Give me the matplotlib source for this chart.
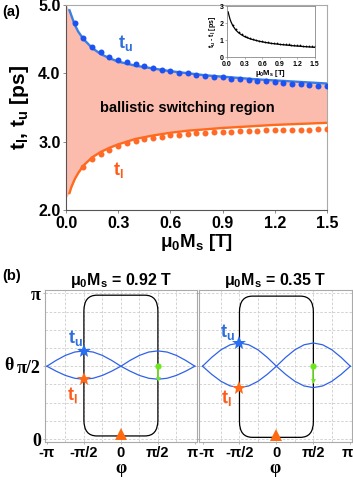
import numpy as np
import matplotlib
matplotlib.use("Agg")
import matplotlib.pyplot as plt
from matplotlib.patches import FancyBboxPatch
from matplotlib.transforms import ScaledTranslation

plt.rcParams["font.family"] = ["Liberation Sans", "DejaVu Sans"]
plt.rcParams["font.weight"] = "bold"
plt.rcParams["axes.labelweight"] = "bold"
plt.rcParams["axes.titleweight"] = "bold"
plt.rcParams["mathtext.fontset"] = "custom"
plt.rcParams["mathtext.rm"] = "Liberation Sans:bold"
plt.rcParams["mathtext.it"] = "Liberation Sans:bold"
plt.rcParams["mathtext.bf"] = "Liberation Sans:bold"

# ---- panel (a) data ----
ms_dots = [0.05, 0.10, 0.15, 0.20, 0.25, 0.30, 0.35, 0.40, 0.45, 0.50,
           0.55, 0.60, 0.65, 0.70, 0.75, 0.80, 0.85, 0.90, 0.95, 1.00,
           1.05, 1.10, 1.15, 1.20, 1.25, 1.30, 1.35, 1.40, 1.45, 1.50]
tu_dots = [4.73, 4.51, 4.39, 4.31, 4.24, 4.19, 4.17, 4.14, 4.11, 4.08,
           4.05, 4.03, 4.01, 4.00, 3.98, 3.965, 3.95, 3.94, 3.92, 3.91,
           3.90, 3.89, 3.88, 3.87, 3.86, 3.85, 3.84, 3.83, 3.82, 3.81]
tl_dots = [None, 2.63, 2.74, 2.82, 2.88, 2.94, 2.98, 3.01, 3.035, 3.06,
           3.07, 3.09, 3.10, 3.11, 3.12, 3.125, 3.135, 3.14, 3.145, 3.15,
           3.155, 3.16, 3.165, 3.165, 3.17, 3.17, 3.175, 3.175, 3.18, 3.18]

ms_line = [0.0, 0.02, 0.03, 0.05, 0.07, 0.10, 0.15, 0.20, 0.25, 0.30, 0.40,
           0.50, 0.60, 0.70, 0.80, 0.90, 1.00, 1.10, 1.20, 1.30, 1.40, 1.50]
tu_line = [5.00, 4.92, 4.85, 4.71, 4.61, 4.50, 4.37, 4.28, 4.22, 4.17, 4.11,
           4.07, 4.03, 4.00, 3.97, 3.95, 3.93, 3.91, 3.895, 3.88, 3.865, 3.85]
tl_line = [2.18, 2.25, 2.33, 2.45, 2.54, 2.65, 2.77, 2.85, 2.91, 2.96, 3.04,
           3.09, 3.13, 3.16, 3.18, 3.20, 3.215, 3.23, 3.245, 3.255, 3.265, 3.275]

# ---- panel (b) data ----
PI = np.pi
phi_pts = [k * PI / 8 for k in range(-8, 9)]
phi_labels = ["-π", "-π/2", "0", "π/2", "π"]
theta_labels = ["0", "π/2", "π"]
panels = [
    {"title": "0.92",
     "curve": [1.571, 1.697, 1.804, 1.876, 1.901, 1.876, 1.804, 1.697, 1.571,
               1.464, 1.373, 1.312, 1.291, 1.312, 1.373, 1.464, 1.571],
     "loop": (0.07, 3.10), "tri": 0.11, "green_end": 1.29,
     "tu_pos": (-1.94, 2.18), "tl_pos": (-2.08, 0.95),
     "xlim": (-PI - 0.08, PI + 0.09)},
    {"title": "0.35",
     "curve": [1.571, 1.762, 1.925, 2.033, 2.071, 2.033, 1.925, 1.762, 1.571,
               1.395, 1.246, 1.146, 1.111, 1.146, 1.246, 1.395, 1.571],
     "loop": (0.04, 3.08), "tri": 0.09, "green_end": 1.26,
     "tu_pos": (-2.07, 2.31), "tl_pos": (-2.14, 0.88),
     "xlim": (-PI - 0.15, PI + 0.07)},
]

blue_line = "#3a7fe2"
blue_dot = "#1d52f2"
orange_line = "#ff6a1c"
orange_dot = "#ff6a28"
fill_col = "#fbbcae"
SERIF = ["Liberation Serif", "DejaVu Serif"]


def bold_ticks(a):
    for lab in a.get_xticklabels() + a.get_yticklabels():
        lab.set_fontweight("bold")


fig = plt.figure(figsize=(3.53, 4.84), dpi=100)

# ---- (a) ----
ax = fig.add_axes([0.187, 0.566, 0.739, 0.424])
ax.fill_between(ms_line, tl_line, tu_line, color=fill_col, lw=0, zorder=1)
ax.plot(ms_line[1:], tu_line[1:], color=blue_line, lw=1.7, zorder=2)
ax.plot(ms_line[1:], tl_line[1:], color=orange_line, lw=1.7, zorder=2)
ax.plot(ms_dots, tu_dots, "o", color=blue_dot, ms=4.3, mew=0, zorder=3)
tl_x = [x for x, v in zip(ms_dots, tl_dots) if v is not None]
tl_v = [v for v in tl_dots if v is not None]
ax.plot(tl_x, tl_v, "o", color=orange_dot, ms=4.3, mew=0, zorder=3)
ax.set_xlim(0, 1.5)
ax.set_ylim(2, 5)
ax.set_xticks([0.0, 0.3, 0.6, 0.9, 1.2, 1.5])
ax.set_xticklabels(["0.0", "0.3", "0.6", "0.9", "1.2", "1.5"])
ax.set_yticks([2, 3, 4, 5])
ax.set_yticklabels(["2.0", "3.0", "4.0", "5.0"])
ax.tick_params(labelsize=11.5, length=2, width=0.6, color="#777777", pad=2)
bold_ticks(ax)
for s in ["top", "right"]:
    ax.spines[s].set_color("#aaaaaa")
for s in ["left", "bottom"]:
    ax.spines[s].set_color("#555555")
for s in ax.spines.values():
    s.set_linewidth(0.8)
ax.set_xlabel(r"μ$_0$M$_s$ [T]", fontsize=13.5, labelpad=1, fontweight="bold")
ax.set_ylabel(r"t$_l$, t$_u$ [ps]", fontsize=15, labelpad=5, fontweight="bold")
ax.text(0.34, 4.44, r"t$_u$", color="#2f6fdc", fontsize=13, ha="center",
        va="center", fontweight="bold")
ax.text(0.30, 2.59, r"t$_l$", color="#ff5a1a", fontsize=13, ha="center",
        va="center", fontweight="bold")
ax.text(0.695, 3.49, "ballistic switching region", fontsize=10.5,
        ha="center", va="center", fontweight="bold")
fig.text(0.005, 0.975, "(a)", fontsize=10.5, va="center", fontweight="bold")

# inset
ins = fig.add_axes([0.643, 0.882, 0.249, 0.105])
diff_line = [u - l for u, l in zip(tu_line[1:], tl_line[1:])]
diff_dots = [u - l for u, l, in zip(tu_dots, tl_dots) if l is not None]
ins.plot(ms_line[1:], diff_line, color="black", lw=0.9)
ins.plot(tl_x, diff_dots, "o", color="black", ms=1.3, mew=0)
ins.set_xlim(0, 1.5)
ins.set_ylim(0, 3)
ins.set_xticks([0.0, 0.3, 0.6, 0.9, 1.2, 1.5])
ins.set_xticklabels(["0.0", "0.3", "0.6", "0.9", "1.2", "1.5"])
ins.set_yticks([0, 1, 2, 3])
ins.tick_params(labelsize=5, length=1.5, width=0.4, pad=1, color="#777777")
bold_ticks(ins)
for s in ins.spines.values():
    s.set_color("#888888")
    s.set_linewidth(0.6)
ins.set_xlabel(r"μ$_0$M$_s$ [T]", fontsize=5.5, labelpad=0.5, fontweight="bold")
ins.set_ylabel(r"t$_u$ - t$_l$ [ps]", fontsize=5, labelpad=1, fontweight="bold")

# ---- (b) ----
boxes = [[0.1275, 0.0868, 0.4306, 0.314], [0.5637, 0.0868, 0.4334, 0.314]]
for i, (p, b) in enumerate(zip(panels, boxes)):
    bx = fig.add_axes(b)
    bx.set_xlim(*p["xlim"])
    bx.set_ylim(-0.06, PI + 0.07)
    for k in range(-3, 4):
        bx.axvline(k * PI / 4, color="#cccccc", lw=0.6, ls=(0, (3, 2)), zorder=0)
    for k in range(0, 9):
        bx.axhline(k * PI / 8, color="#cccccc", lw=0.6, ls=(0, (3, 2)), zorder=0)
    y0, y1 = p["loop"]
    loop = FancyBboxPatch((-PI / 2, y0), PI, y1 - y0,
                          boxstyle="round,pad=0,rounding_size=0.55",
                          mutation_aspect=0.62, fc="none", ec="black",
                          lw=0.9, zorder=2)
    bx.add_patch(loop)
    bx.plot(phi_pts, p["curve"], color="#2f62e8", lw=0.9, zorder=3)
    bx.plot(phi_pts, p["curve"][::-1], color="#2f62e8", lw=0.9, zorder=3)
    top = max(p["curve"])
    bot = min(p["curve"])
    bx.plot([-PI / 2], [top], "*", color="#2a6ff0", ms=10, mew=0, zorder=5)
    bx.plot([-PI / 2], [bot], "*", color="#ff6a1a", ms=10, mew=0, zorder=5)
    bx.plot([0], [p["tri"]], "^", color="#ff6a10", ms=8, mew=0, zorder=5)
    bx.plot([PI / 2, PI / 2], [PI / 2, p["green_end"]], color="#7ee83a", lw=1.2, zorder=4)
    bx.plot([PI / 2], [PI / 2], "o", color="#6ee61e", ms=4.5, mew=0, zorder=5)
    bx.plot([PI / 2], [p["green_end"]], "v", color="#6ee61e", ms=3.5, mew=0, zorder=5)
    bx.text(*p["tu_pos"], r"t$_u$", color="#2f6fdc", fontsize=13, ha="center",
            va="center", fontweight="bold")
    bx.text(*p["tl_pos"], r"t$_l$", color="#ff5a1a", fontsize=13, ha="center",
            va="center", fontweight="bold")
    bx.set_xticks([-PI, -PI / 2, 0, PI / 2, PI])
    bx.set_xticklabels(phi_labels, fontweight="bold", fontsize=10.5)
    bx.set_yticks([0, PI / 2, PI])
    if i == 0:
        bx.set_yticklabels(theta_labels, family=SERIF, fontweight="bold",
                           fontsize=13)
    else:
        bx.set_yticklabels([])
    bx.tick_params(length=1.5, width=0.5, color="#999999", pad=1.5)
    for s in bx.spines.values():
        s.set_color("#aaaaaa")
        s.set_linewidth(0.8)
    bx.set_xlabel("φ", fontsize=13, labelpad=0, family=SERIF, fontweight="bold")
    bx.set_title(r"μ$_0$M$_s$ = " + p["title"] + " T", fontsize=11.5, pad=3,
                 fontweight="bold")
    # keep the outer pi labels clear of the neighbouring panel
    labs = bx.get_xticklabels()
    if i == 0:
        labs[-1].set_transform(labs[-1].get_transform()
                               + ScaledTranslation(-2 / 72, 0, fig.dpi_scale_trans))
    else:
        labs[0].set_transform(labs[0].get_transform()
                              + ScaledTranslation(3 / 72, 0, fig.dpi_scale_trans))
        labs[-1].set_transform(labs[-1].get_transform()
                               + ScaledTranslation(-2.5 / 72, 0, fig.dpi_scale_trans))

fig.text(0.025, 0.244, "θ", fontsize=13, family=SERIF, fontweight="bold",
         ha="center", va="center")
fig.text(0.005, 0.43, "(b)", fontsize=10.5, va="center", fontweight="bold")

fig.savefig("out.png", dpi=100)
